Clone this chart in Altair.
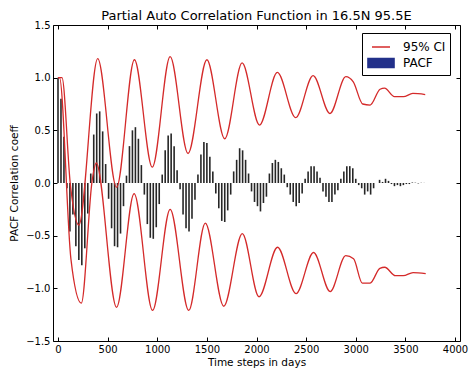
import altair as alt
import pandas as pd

# ---------------- data ----------------
lag_step_days = 30
pacf_values = [
    1.00, 0.80, 0.44, -0.05, -0.46,
    -0.30, -0.60, -0.73, -0.78, -0.62, -0.29,
    0.09, 0.46, 0.66, 0.68, 0.49, 0.18,
    -0.15, -0.43, -0.60, -0.61, -0.48, -0.22,
    0.07, 0.35, 0.50, 0.53, 0.42, 0.17,
    -0.11, -0.39, -0.52, -0.53, -0.42, -0.20,
    0.08, 0.31, 0.45, 0.47, 0.35, 0.12,
    -0.06, -0.30, -0.43, -0.46, -0.34, -0.16,
    0.08, 0.27, 0.39, 0.38, 0.25, 0.11,
    -0.10, -0.24, -0.36, -0.37, -0.26, -0.11,
    0.11, 0.22, 0.33, 0.31, 0.22, 0.09,
    -0.08, -0.18, -0.22, -0.27, -0.19, -0.13,
    0.09, 0.19, 0.22, 0.20, 0.14, 0.08,
    -0.04, -0.11, -0.18, -0.22, -0.19, -0.10,
    0.04, 0.11, 0.16, 0.16, 0.11, 0.05,
    -0.08, -0.13, -0.18, -0.18, -0.11, -0.07,
    0.04, 0.11, 0.16, 0.16, 0.14, 0.04,
    -0.02, -0.05, -0.11, -0.08, -0.11, -0.05,
    0.00, 0.03, 0.01, 0.04, 0.02, -0.01,
    -0.03, -0.02, -0.03, -0.02, -0.01, -0.01,
    0.005, 0.003, -0.004, 0.002, 0.001,
]

ci_upper_days = [0, 40, 125, 210, 400, 590, 770, 950, 1130, 1310, 1500, 1680,
                 1855, 2030, 2210, 2395, 2570, 2740, 2900, 2975, 3070, 3145,
                 3245, 3290, 3390, 3480, 3575, 3700]
ci_upper_vals = [1.00, 1.00, -0.02, -0.40, 1.18, -0.04, 1.17, 0.15, 1.20, 0.28, 1.17, 0.42,
                 1.14, 0.55, 1.05, 0.62, 1.02, 0.66, 1.01, 0.96, 0.75, 0.74,
                 0.89, 0.90, 0.82, 0.82, 0.85, 0.84]

ci_lower_days = [0, 15, 130, 235, 345, 385, 590, 767, 953, 1130, 1317, 1484, 1670,
                 1857, 2025, 2212, 2398, 2575, 2742, 2899, 2978, 3066, 3145,
                 3243, 3292, 3400, 3479, 3577, 3705]
ci_lower_vals = [1.00, 1.00, -0.72, -1.14, 0.03, 0.19, -1.18, -0.10, -1.21, -0.25, -1.21, -0.38, -1.17,
                 -0.48, -1.08, -0.61, -1.05, -0.66, -1.03, -0.69, -0.72, -0.95, -0.95,
                 -0.81, -0.80, -0.88, -0.88, -0.85, -0.86]

series_names = ["95% CI", "PACF"]
x_ticks = [0, 500, 1000, 1500, 2000, 2500, 3000, 3500, 4000]
y_ticks = [-1.5, -1.0, -0.5, 0.0, 0.5, 1.0, 1.5]

# ---------------- tables ----------------
pacf_df = pd.DataFrame({
    "day": [i * lag_step_days for i in range(len(pacf_values))],
    "value": pacf_values,
    "series": series_names[1],
})
ci_df = pd.concat([
    pd.DataFrame({"day": ci_upper_days, "value": ci_upper_vals, "bound": "upper"}),
    pd.DataFrame({"day": ci_lower_days, "value": ci_lower_vals, "bound": "lower"}),
], ignore_index=True)
ci_df["series"] = series_names[0]

# ---------------- styling ----------------
FONT = "DejaVu Sans"
RED = "#d42a2a"
NAVY = "#22308a"

x_scale = alt.Scale(domain=[0, 4000], nice=False)
y_scale = alt.Scale(domain=[-1.5, 1.5], nice=False)
color_scale = alt.Scale(domain=series_names, range=[RED, NAVY])
shape_scale = alt.Scale(domain=series_names,
                        range=["stroke", "M-1.45,-0.5H1.45V0.5H-1.45Z"])

legend = alt.Legend(
    title=None, orient="none", legendX=309, legendY=8,
    direction="vertical", padding=4, symbolOffset=5, labelOffset=12,
    symbolSize=324, symbolStrokeWidth=1.5, rowPadding=0, symbolOpacity=1,
    labelFont=FONT, labelFontSize=12, labelColor="black",
    strokeColor="black", fillColor="white", cornerRadius=0,
)

common_axis = dict(domain=False, grid=False, tickSize=4, offset=-4,
                   tickColor="black", tickWidth=1)

bars = alt.Chart(pacf_df).mark_bar(size=1.6, color="#262626").encode(
    x=alt.X("day:Q", scale=x_scale,
            axis=alt.Axis(orient="bottom", values=x_ticks, format="d",
                          labelFlush=False, labelOverlap=False, labelPadding=3,
                          title="Time steps in days", titlePadding=3,
                          **common_axis)),
    y=alt.Y("value:Q", scale=y_scale,
            axis=alt.Axis(orient="left", values=y_ticks, format=".1f",
                          labelFlush=False, labelOverlap=False, labelPadding=3,
                          title="PACF Correlation coeff", titlePadding=6,
                          **common_axis)),
)

lines = alt.Chart(ci_df).mark_line(strokeWidth=1.3, interpolate="monotone").encode(
    x=alt.X("day:Q", scale=x_scale,
            axis=alt.Axis(orient="top", values=x_ticks, labels=False, title=None,
                          **common_axis)),
    y=alt.Y("value:Q", scale=y_scale,
            axis=alt.Axis(orient="right", values=y_ticks, labels=False, title=None,
                          **common_axis)),
    color=alt.Color("series:N", scale=color_scale, legend=legend),
    detail="bound:N",
)

legend_layer = alt.Chart(pacf_df).transform_filter("false").mark_point(
    filled=True, opacity=1
).encode(
    x=alt.X("day:Q", scale=x_scale, axis=None),
    y=alt.Y("value:Q", scale=y_scale, axis=None),
    color=alt.Color("series:N", scale=color_scale, legend=legend),
    shape=alt.Shape("series:N", scale=shape_scale, legend=legend),
)

chart = alt.layer(bars, lines, legend_layer).resolve_axis(
    x="independent", y="independent"
).properties(
    width=407, height=316,
    padding={"left": 53, "top": 25, "right": 12, "bottom": 31},
    autosize=alt.AutoSizeParams(type="none"),
    title=alt.TitleParams("Partial Auto Correlation Function in 16.5N 95.5E",
                          font=FONT, fontSize=13, fontWeight="normal",
                          color="black", anchor="middle", offset=-3),
).configure_view(
    stroke="black", strokeWidth=1
).configure_axis(
    labelFont=FONT, labelFontSize=10, labelColor="black",
    titleFont=FONT, titleFontSize=10.5, titleFontWeight="normal", titleColor="black",
)

chart.save("out.html", embed_options={"renderer": "svg", "actions": False})
